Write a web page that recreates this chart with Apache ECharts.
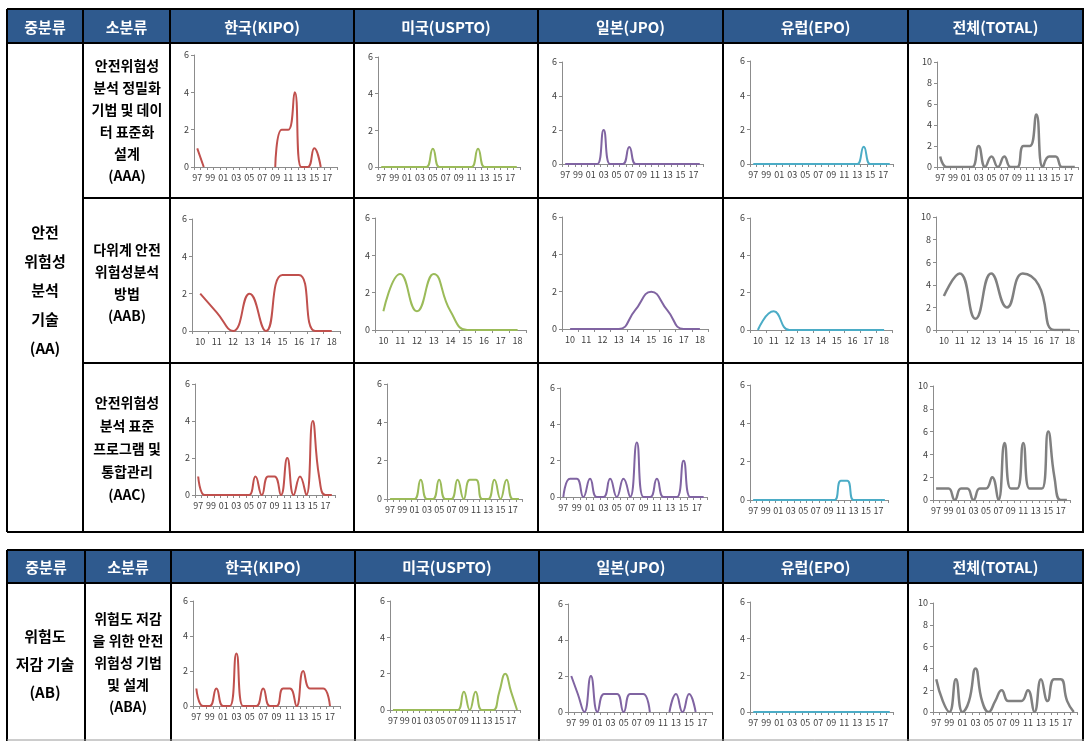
<!DOCTYPE html>
<html>
<head>
<meta charset="utf-8">
<script src="https://cdn.jsdelivr.net/npm/echarts@6/dist/echarts.min.js"></script>
<style>
  html, body { margin: 0; padding: 0; background: #fff; }
  #main { width: 1084px; height: 741px; }
</style>
</head>
<body>
<div id="main"></div>
<script>
// categories
const years = ['97','98','99','00','01','02','03','04','05','06','07','08','09','10','11','12','13','14','15','16','17','18'];
const years10 = ['10','11','12','13','14','15','16','17','18'];
const offices = ['한국(KIPO)', '미국(USPTO)', '일본(JPO)', '유럽(EPO)', '전체(TOTAL)'];
const yTicksOffice = [0, 2, 4, 6];
const yTicksTotal = [0, 2, 4, 6, 8, 10];

// AAA (97..18)
const aaaKipo  = [1,0,null,null,null,null,null,null,null,null,null,null,0,2,2,4,0,0,1,0,null,null];
const aaaUspto = [0,0,0,0,0,0,0,0,1,0,0,0,0,0,0,1,0,0,0,0,0,0];
const aaaJpo   = [0,0,0,0,0,0,2,0,0,0,1,0,0,0,0,0,0,0,0,0,0,0];
const aaaEpo   = [0,0,0,0,0,0,0,0,0,0,0,0,0,0,0,0,0,1,0,0,0,0];
const aaaTotal = [1,0,0,0,0,0,2,0,1,0,1,0,0,2,2,5,0,1,1,0,0,0];

// AAB (10..18)
const aabKipo  = [2,1,0,2,0,3,3,0,0];
const aabUspto = [1,3,1,3,1,0,0,0,0];
const aabJpo   = [0,0,0,0,1,2,1,0,0];
const aabEpo   = [0,1,0,0,0,0,0,0,0];
const aabTotal = [3,5,1,5,2,5,4,0,0];

// AAC (97..18)
const aacKipo  = [1,0,0,0,0,0,0,0,0,1,0,1,1,0,2,0,1,0,4,1,0,0];
const aacUspto = [0,0,0,0,0,1,0,0,1,0,0,1,0,1,1,0,0,1,0,1,0,0];
const aacJpo   = [0,1,1,0,1,0,0,1,0,1,0,3,0,0,1,0,0,0,2,0,0,0];
const aacEpo   = [0,0,0,0,0,0,0,0,0,0,0,0,0,0,1,1,0,0,0,0,0,0];
const aacTotal = [1,1,1,0,1,1,0,1,1,2,0,5,1,1,5,1,1,1,6,2,0,0];

// ABA (97..18)
const abaKipo  = [1,0,0,1,0,0,3,0,0,0,1,0,0,1,1,0,2,1,1,1,0,null];
const abaUspto = [0,0,0,0,0,0,0,0,0,0,0,0,1,0,1,0,0,0,1,2,1,0];
const abaJpo   = [2,1,0,2,0,1,1,1,0,1,1,1,0,null,null,0,1,0,1,0,null,null];
const abaEpo   = [0,0,0,0,0,0,0,0,0,0,0,0,0,0,0,0,0,0,0,0,0,0];
const abaTotal = [3,1,0,3,0,1,4,1,0,1,2,1,1,1,2,0,3,1,3,3,1,0];

const rows = [
  { cats: years,   data: [aaaKipo, aaaUspto, aaaJpo, aaaEpo, aaaTotal] },
  { cats: years10, data: [aabKipo, aabUspto, aabJpo, aabEpo, aabTotal] },
  { cats: years,   data: [aacKipo, aacUspto, aacJpo, aacEpo, aacTotal] },
  { cats: years,   data: [abaKipo, abaUspto, abaJpo, abaEpo, abaTotal] }
];

const colors = ['#C0504D', '#9BBB59', '#8064A2', '#4BACC6', '#808080'];
const headBlue = '#2F5A8E';
const font = '"Noto Sans CJK KR", "Noto Sans", sans-serif';

// plot areas: [left, right, top, zero line] for each cell
const boxes = [
  [[194,337,55,167], [378,520,57,167], [562,703,62,164], [750,893,61,164], [937,1078,62,167]],
  [[192,340,219,331], [375,526,218,330], [562,708,217,329], [750,892,218,330], [936,1078,217,330]],
  [[195,335,384,495], [387,522,384,499], [560,707,388,497], [750,888,385,500], [933,1070,386,500]],
  [[193,340,601,706], [390,520,601,710], [568,712,604,712], [750,893,602,712], [933,1077,603,712]]
];

const grid = [], xAxis = [], yAxis = [], series = [];
rows.forEach((row, r) => {
  row.data.forEach((vals, c) => {
    const b = boxes[r][c];
    const i = grid.length;
    const isTotal = c === 4;
    const ticks = isTotal ? yTicksTotal : yTicksOffice;
    grid.push({ left: b[0], top: b[2], width: b[1] - b[0], height: b[3] - b[2] });
    xAxis.push({
      type: 'category', gridIndex: i, data: row.cats, boundaryGap: true,
      axisLine: { lineStyle: { color: '#8C8C8C', width: 1 } },
      axisTick: { show: true, interval: 0, length: 3, lineStyle: { color: '#8C8C8C' } },
      axisLabel: { interval: row.cats.length > 10 ? 1 : 0, fontSize: 9, color: '#404040', margin: 6, fontFamily: font }
    });
    yAxis.push({
      type: 'value', gridIndex: i, min: 0, max: ticks[ticks.length - 1], interval: 2,
      axisLine: { show: true, lineStyle: { color: '#8C8C8C', width: 1 } },
      axisTick: { show: true, length: 3, lineStyle: { color: '#8C8C8C' } },
      axisLabel: { fontSize: 9, color: '#404040', margin: 5, fontFamily: font },
      splitLine: { show: false }
    });
    series.push({
      type: 'line', xAxisIndex: i, yAxisIndex: i, data: vals,
      smooth: 0.5, showSymbol: false, connectNulls: false,
      lineStyle: { color: colors[c], width: isTotal ? 2.5 : 2 },
      itemStyle: { color: colors[c] }
    });
  });
});

// table drawing
const g = [];
function line(x1, y1, x2, y2, w, col) {
  g.push({ type: 'line', silent: true, shape: { x1, y1, x2, y2 }, style: { stroke: col || '#000', lineWidth: w || 2 } });
}
function text(t, x, y, size, col, lh) {
  g.push({ type: 'text', silent: true, style: {
    text: t, x, y, align: 'center', verticalAlign: 'middle',
    fontSize: size, fontWeight: 'bold', fontFamily: font, fill: col, lineHeight: lh || size + 6
  }});
}

const headers = ['중분류', '소분류'].concat(offices);

// top table
const colTop = [7, 83, 170, 354, 538, 723, 908, 1083];
g.push({ type: 'rect', silent: true, shape: { x: 7, y: 9, width: 1077, height: 34 }, style: { fill: headBlue } });
headers.forEach((h, k) => text(h, (colTop[k] + colTop[k + 1]) / 2, 27, 15, '#fff'));
line(7, 9, 1084, 9);
line(7, 43, 1084, 43);
line(83, 198, 1084, 198);
line(83, 363, 1084, 363);
line(7, 532, 1084, 532);
colTop.forEach(x => line(x, 9, x, 532));
text('안전\n위험성\n분석\n기술\n(AA)', 45, 290, 15, '#000', 29);
text('안전위험성\n분석 정밀화\n기법 및 데이\n터 표준화\n설계\n(AAA)', 127, 121, 14, '#000', 22);
text('다위계 안전\n위험성분석\n방법\n(AAB)', 127, 283, 14, '#000', 22);
text('안전위험성\n분석 표준\n프로그램 및\n통합관리\n(AAC)', 127, 449, 14, '#000', 23);

// bottom table
const colBot = [7, 85, 171, 355, 539, 723, 908, 1083];
g.push({ type: 'rect', silent: true, shape: { x: 7, y: 550, width: 1077, height: 33 }, style: { fill: headBlue } });
headers.forEach((h, k) => text(h, (colBot[k] + colBot[k + 1]) / 2, 567, 15, '#fff'));
line(7, 550, 1084, 550);
line(7, 583, 1084, 583);
colBot.forEach(x => line(x, 550, x, 741));
line(7, 740, 1084, 740, 1, '#9A9A9A');
text('위험도\n저감 기술\n(AB)', 45, 664, 15, '#000', 28);
text('위험도 저감\n을 위한 안전\n위험성 기법\n및 설계\n(ABA)', 128, 663, 14, '#000', 22);

const chart = echarts.init(document.getElementById('main'));
chart.setOption({
  animation: false,
  backgroundColor: '#fff',
  grid, xAxis, yAxis, series,
  graphic: { elements: g }
});
</script>
</body>
</html>
